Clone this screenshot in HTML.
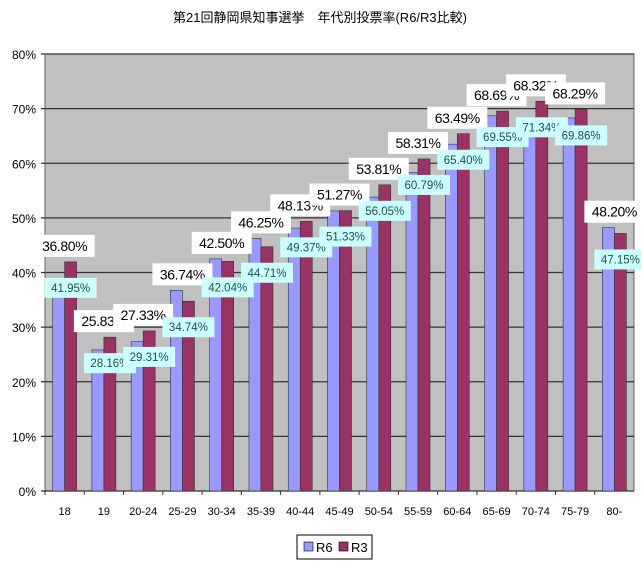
<!DOCTYPE html>
<html><head><meta charset="utf-8"><style>
body{margin:0;background:#fff;}
svg{display:block;font-family:"Liberation Sans","Noto Sans CJK JP",sans-serif;}
</style></head><body>
<svg id="chart" width="642" height="566" viewBox="0 0 642 566">
<text x="320" y="22" text-anchor="middle" font-size="13" fill="#000">第21回静岡県知事選挙　年代別投票率(R6/R3比較)</text>
<g id="plot"></g>
<g>
<rect x="297" y="535" width="75" height="24" fill="#fff" stroke="#000" stroke-width="1"/>
<rect x="304" y="542" width="9" height="9" fill="#9999ff" stroke="#000" stroke-width="0.6"/>
<text x="316" y="552" font-size="13">R6</text>
<rect x="339" y="542" width="9" height="9" fill="#993366" stroke="#000" stroke-width="0.6"/>
<text x="351" y="552" font-size="13">R3</text>
</g>
</svg>
<script>
const categories=["18","19","20-24","25-29","30-34","35-39","40-44","45-49","50-54","55-59","60-64","65-69","70-74","75-79","80-"];
const r6=[36.80,25.83,27.33,36.74,42.50,46.25,48.13,51.27,53.81,58.31,63.49,68.69,68.32,68.29,48.20];
const r3=[41.95,28.16,29.31,34.74,42.04,44.71,49.37,51.33,56.05,60.79,65.40,69.55,71.34,69.86,47.15];
const yTicks=[0,10,20,30,40,50,60,70,80];
const L=45,R=634,T=54,B=491;
const ns="http://www.w3.org/2000/svg";
const g=document.getElementById('plot');
function y(v){return B-(v/80)*(B-T);}
const bw=(R-L)/categories.length;
function xc(i){return L+bw*(i+0.5);}
function mk(t,a){const e=document.createElementNS(ns,t);for(const k in a)e.setAttribute(k,a[k]);g.appendChild(e);return e;}
const bg=mk('rect',{x:L,y:T,width:R-L,height:B-T,fill:'#c0c0c0',stroke:'#666'});


yTicks.forEach(t=>{
 const ln=mk('line',{x1:L-4,x2:R,y1:y(t),y2:y(t),stroke:'#333','stroke-width':1.2});
 
 
 const tx=mk('text',{x:L-9,y:y(t)+5,'text-anchor':'end','font-size':12});
 tx.textContent=t+'%';
 
 
});
categories.forEach((c,i)=>{
 const cx=xc(i);
 const tk=mk('line',{x1:L+bw*i,x2:L+bw*i,y1:B,y2:B+4,stroke:'#333'});
 
 
 const b1=mk('rect',{x:cx-12,y:y(r6[i]),width:12,height:B-y(r6[i]),fill:'#9999ff',stroke:'#333','stroke-width':0.6});
 
 
 const b2=mk('rect',{x:cx,y:y(r3[i]),width:12,height:B-y(r3[i]),fill:'#993366',stroke:'#333','stroke-width':0.6});
 
 
 const xl=mk('text',{x:cx,y:B+24,'text-anchor':'middle','font-size':11});
 xl.textContent=c;
 
 
});
categories.forEach((c,i)=>{
 const cx=xc(i);
 const top=Math.min(y(r6[i]),y(r3[i]));
 const ly=top-16;
 const lb=mk('rect',{x:cx-30,y:ly-11,width:60,height:22,fill:'#fff'});
 
 
 const lt=mk('text',{x:cx,y:ly+5,'text-anchor':'middle','font-size':14,'letter-spacing':'-0.4'});
 lt.textContent=r6[i].toFixed(2)+'%';
 
 
 const ry=y(r3[i])+26;
 const rb=mk('rect',{x:cx-20,y:ry-10,width:52,height:20,fill:'#ccffff'});
 
 
 const rt=mk('text',{x:cx+6,y:ry+4,'text-anchor':'middle','font-size':11.5,fill:'#1a5050'});
 rt.textContent=r3[i].toFixed(2)+'%';
 
 
});
</script>
</body></html>
